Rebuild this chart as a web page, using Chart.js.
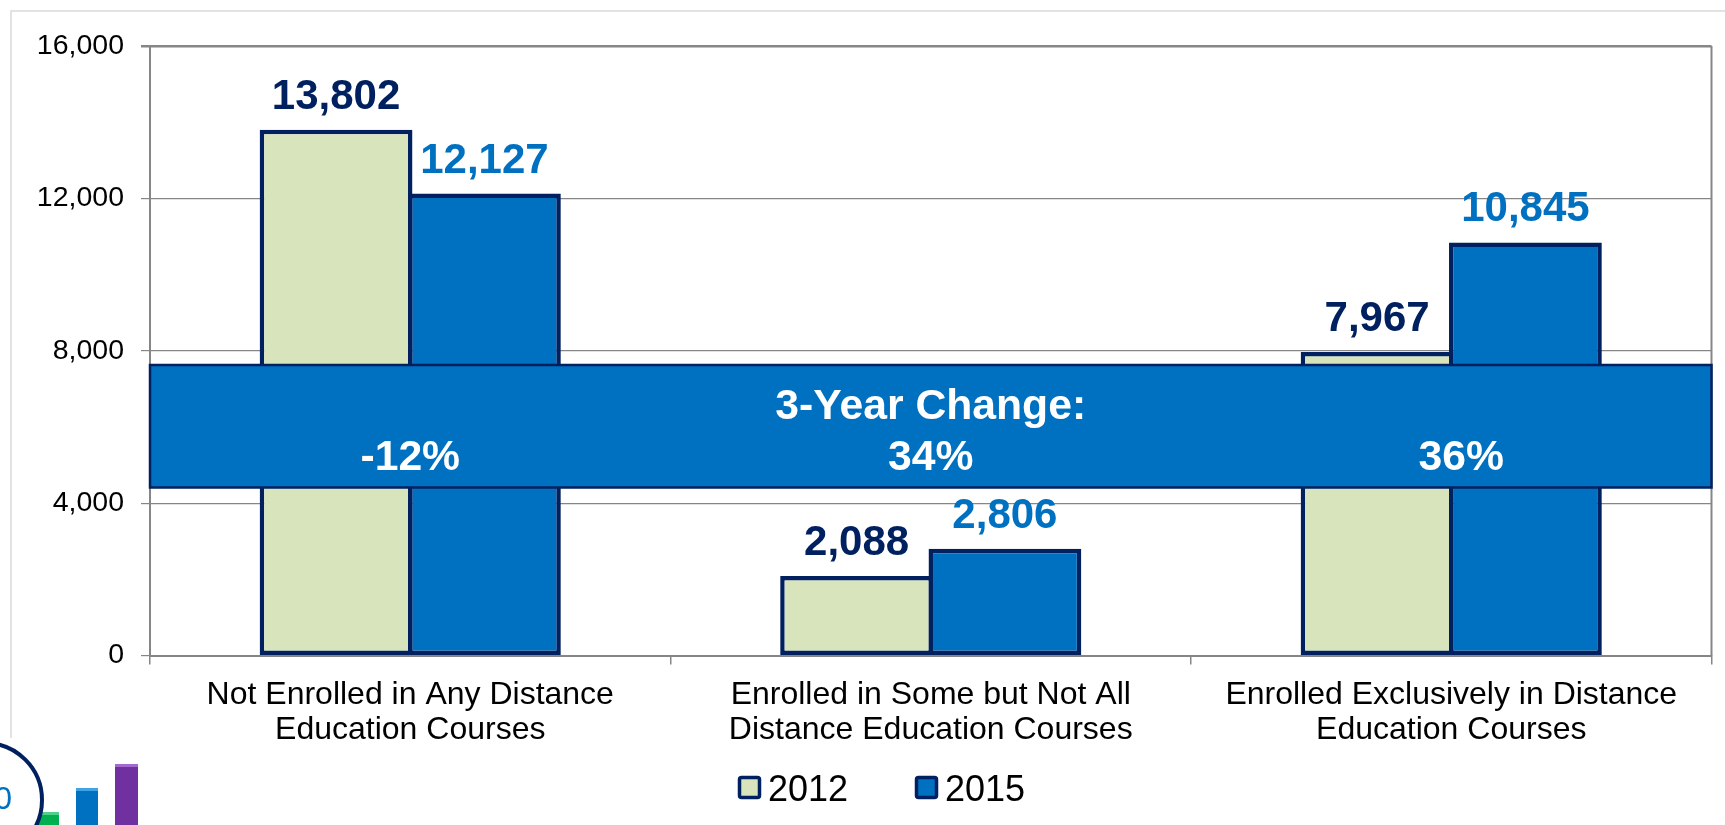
<!DOCTYPE html>
<html><head><meta charset="utf-8">
<style>html,body{margin:0;padding:0;background:#fff}#w{width:1725px;height:825px;position:relative}</style>
<script src="https://cdn.jsdelivr.net/npm/chart.js@4"></script>
</head><body><div id="w"><canvas id="c" width="1725" height="825"></canvas></div>
<script>
const categories = [
  ["Not Enrolled in Any Distance","Education Courses"],
  ["Enrolled in Some but Not All","Distance Education Courses"],
  ["Enrolled Exclusively in Distance","Education Courses"]
];
const seriesNames = ["2012","2015"];
const values2012 = [13802,2088,7967];
const values2015 = [12127,2806,10845];
const changeTitle = "3-Year Change:";
const changeLabels = ["-12%","34%","36%"];
const yTicks = [0,4000,8000,12000,16000];

const NAVY="#002060", BLUE="#0070C0", GREEN="#D8E4BC", GRID="#868686", FONT='"Liberation Sans", Arial, sans-serif';
const fmt=v=>v.toLocaleString("en-US");

const overlay={
  id:"overlay",
  beforeDraw(chart){
    const c=chart.ctx;
    c.save();
    // outer slide frame
    c.strokeStyle="#d9d9d9";c.lineWidth=1.5;
    c.beginPath();c.moveTo(11,738);c.lineTo(11,11);c.lineTo(1725,11);c.stroke();
    // logo fragment
    const bars=[[38,812,21,"#00B050","#4fd08a"],[76,788,22,"#0070C0","#3fa3e6"],[115,764,23,"#7030A0","#a468cf"]];
    bars.forEach(b=>{c.fillStyle=b[3];c.fillRect(b[0],b[1],b[2],825-b[1]);c.fillStyle=b[4];c.fillRect(b[0],b[1],b[2],3);});
    c.fillStyle="#fff";c.beginPath();c.arc(-15,800,57,0,Math.PI*2);c.fill();
    c.strokeStyle=NAVY;c.lineWidth=4;c.beginPath();c.arc(-15,800,57,0,Math.PI*2);c.stroke();
    c.fillStyle=BLUE;c.font="32px "+FONT;c.textAlign="right";c.textBaseline="middle";c.fillText("0",12,800);
    c.restore();
  },
  afterDraw(chart){
    const c=chart.ctx,a=chart.chartArea,x=chart.scales.x;
    c.save();
    // right plot border
    c.strokeStyle=GRID;c.lineWidth=2;c.beginPath();c.moveTo(a.right,a.top);c.lineTo(a.right,a.bottom);c.stroke();
    // value labels
    c.textAlign="center";c.textBaseline="alphabetic";c.font="bold 42px "+FONT;
    chart.data.datasets.forEach((d,i)=>{
      c.fillStyle=i===0?NAVY:BLUE;
      chart.getDatasetMeta(i).data.forEach((el,j)=>c.fillText(fmt(d.data[j]),el.x,el.y-21));
    });
    // change banner
    c.fillStyle=BLUE;c.strokeStyle=NAVY;c.lineWidth=2.5;
    c.fillRect(a.left,365,a.width,122.5);c.strokeRect(a.left,365,a.width,122.5);
    c.fillStyle="#fff";c.font="bold 42.7px "+FONT;c.textBaseline="middle";
    c.fillText(changeTitle,x.getPixelForTick(1),407);
    const shift=[0,0,10];
    changeLabels.forEach((t,i)=>c.fillText(t,x.getPixelForTick(i)+shift[i],458));
    // legend
    const left=[738,915];
    chart.data.datasets.forEach((d,i)=>{
      c.fillStyle=d.backgroundColor;c.strokeStyle=NAVY;c.lineWidth=3.5;
      c.beginPath();c.roundRect(left[i]+1.5,777.5,20,20,2);c.fill();c.stroke();
      c.fillStyle="#000";c.font="36px "+FONT;c.textAlign="left";c.textBaseline="middle";
      c.fillText(d.label,left[i]+30,791);
    });
    c.restore();
  }
};

new Chart(document.getElementById("c"),{
  type:"bar",
  data:{labels:categories,datasets:[
    {label:seriesNames[0],data:values2012,backgroundColor:GREEN,borderColor:NAVY,borderWidth:4.5,borderSkipped:false,categoryPercentage:0.57,barPercentage:1.03},
    {label:seriesNames[1],data:values2015,backgroundColor:BLUE,borderColor:NAVY,borderWidth:4.5,borderSkipped:false,categoryPercentage:0.57,barPercentage:1.03}
  ]},
  options:{
    responsive:false,animation:false,
    layout:{padding:{top:46,right:13.5,bottom:0,left:0},autoPadding:false},
    plugins:{legend:{display:false},tooltip:{enabled:false},title:{display:false}},
    scales:{
      x:{
        afterFit(s){s.height=169.4;},
        grid:{drawOnChartArea:false,color:GRID,lineWidth:1.5,tickLength:9,offset:true},
        border:{color:GRID,width:2},
        ticks:{color:"#000",font:{family:FONT,size:32,lineHeight:1.1},padding:13,maxRotation:0,autoSkip:false}
      },
      y:{
        min:0,max:16000,
        afterFit(s){s.width=150;},
        afterBuildTicks(s){s.ticks=yTicks.map(v=>({value:v}));},
        grid:{color:GRID,lineWidth:c=>c.tick&&c.tick.value===16000?2.5:1.2,tickLength:9},
        border:{color:GRID,width:2},
        ticks:{color:"#000",font:{family:FONT,size:28.5},padding:17,callback:v=>fmt(v)}
      }
    }
  },
  plugins:[overlay]
});
</script></body></html>
